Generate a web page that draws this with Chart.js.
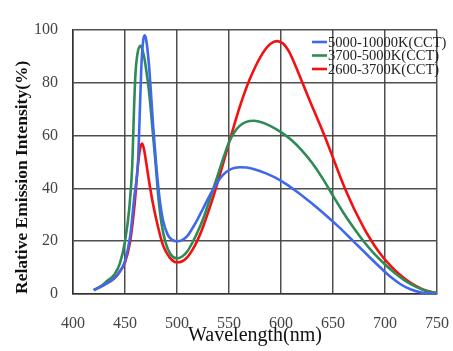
<!DOCTYPE html>
<html>
<head>
<meta charset="utf-8">
<script src="https://cdn.jsdelivr.net/npm/chart.js@4/dist/chart.umd.min.js"></script>
<style>
  html, body { margin: 0; padding: 0; background: #fff; }
  #c { display: block; }
</style>
</head>
<body>
<canvas id="c" width="453" height="351"></canvas>
<script>
// ---- Data ----
const seriesLabels = ["5000-10000K(CCT)", "3700-5000K(CCT)", "2600-3700K(CCT)"];
const seriesColors = ["#3f68ee", "#2e8b57", "#f21010"];

const blueNm  = [420, 430, 440, 445, 450, 455, 459, 462.5, 464, 465.7, 467.5, 469, 470.5, 473, 475, 477, 480, 483, 486.5, 491, 495, 500, 505, 510, 515, 520, 525, 530, 535, 540, 545, 550, 555, 561, 567, 575, 585, 595, 605, 615, 625, 635, 645, 655, 665, 675, 685, 695, 705, 715, 725, 735, 750];
const blueVal = [1.5, 3.5, 6, 8.5, 12.5, 22, 37, 50, 66, 86, 96, 98, 96, 87, 76, 64, 49, 37, 28, 22.5, 20.6, 20, 20.4, 22, 25, 28.5, 32.3, 36.2, 39.8, 43, 45.4, 46.9, 47.7, 48, 47.9, 47.2, 45.8, 44, 41.6, 38.8, 35.8, 32.6, 29.2, 25.6, 21.8, 17.9, 14, 10.2, 6.6, 3.7, 1.7, 0.6, 0];

const greenNm  = [420, 427, 433, 440, 445, 450, 454, 457, 458.5, 460, 462, 465, 468, 470, 473, 475, 477, 479.5, 482, 485, 489, 494, 500, 505, 510, 515, 520, 525, 530, 535, 540, 545, 550, 555, 560, 566, 574, 582, 590, 600, 610, 620, 630, 640, 650, 660, 670, 680, 690, 700, 710, 720, 730, 740, 750];
const greenVal = [1.5, 3, 5, 7.5, 11.5, 20, 32, 49, 68, 83, 91, 94, 90.5, 86, 77, 69, 60, 49, 37, 27, 19.5, 15, 13.5, 14.2, 16.2, 19.6, 23.7, 28.3, 34, 40, 46, 52, 57.5, 61.2, 63.6, 65.1, 65.6, 65, 63.6, 61.3, 58.3, 54.4, 49.6, 43.8, 37.2, 30.8, 25, 19.7, 15.1, 11.2, 7.8, 4.9, 2.7, 1.1, 0.3];

const redNm  = [420, 430, 440, 445, 450, 455, 459, 462.5, 464.5, 466.3, 468, 470.5, 473, 477, 481.7, 486.5, 493, 500, 505, 510, 515, 520, 525, 530, 535, 540, 545, 550, 555, 560, 565, 570, 575, 580, 585, 590, 596, 602, 608, 614, 620, 626, 632, 638, 644, 650, 655, 660, 665, 670, 675, 680, 685, 690, 695, 700, 710, 720, 730, 740, 750];
const redVal = [1.5, 3.5, 6, 8.5, 12, 20, 33, 49, 55, 57, 55.3, 49.5, 43, 34, 25.5, 18.5, 13.8, 12, 12.4, 14, 16.8, 20.6, 25.4, 31, 37, 43.5, 50.3, 57.3, 64, 70.5, 76.3, 81.4, 85.8, 89.6, 92.7, 94.8, 95.8, 94.9, 91.6, 86.4, 80.6, 74.8, 69.2, 63.6, 57.8, 51.6, 46.4, 41.4, 36.8, 32.5, 28.6, 24.8, 21.4, 18.3, 15.5, 13, 8.8, 5.5, 3, 1.2, 0.3];

const xTicks = [400, 450, 500, 550, 600, 650, 700, 750];
const yTicks = [0, 20, 40, 60, 80, 100];
const xTitle = "Wavelength(nm)";
const yTitle = "Relative Emission Intensity(%)";

// ---- Build chart ----
function toPoints(xs, ys) { return xs.map((x, i) => ({ x: x, y: ys[i] })); }

const allNm = [blueNm, greenNm, redNm];
const allVal = [blueVal, greenVal, redVal];

const datasets = seriesLabels.map((lab, i) => ({
  label: lab,
  data: toPoints(allNm[i], allVal[i]),
  borderColor: seriesColors[i],
  backgroundColor: seriesColors[i],
  borderWidth: 2.6,
  pointRadius: 0,
  fill: false,
  cubicInterpolationMode: 'monotone'
}));

const SERIF = "'Liberation Serif', 'Times New Roman', serif";
const GRID = "rgba(70,70,70,0.95)";

const insideLegend = {
  id: 'insideLegend',
  afterDatasetsDraw(chart) {
    const ctx = chart.ctx;
    const area = chart.chartArea;
    ctx.save();
    ctx.font = "14.5px " + SERIF;
    ctx.textBaseline = 'middle';
    ctx.textAlign = 'left';
    const x0 = area.right - 125;
    const y0 = area.top + 12;
    const step = 13.5;
    chart.data.datasets.forEach((ds, i) => {
      const y = y0 + i * step;
      ctx.strokeStyle = ds.borderColor;
      ctx.lineWidth = 2.6;
      ctx.beginPath();
      ctx.moveTo(x0, y);
      ctx.lineTo(x0 + 15, y);
      ctx.stroke();
      ctx.fillStyle = '#222';
      ctx.fillText(ds.label, x0 + 16, y + 1);
    });
    ctx.restore();
  }
};

new Chart(document.getElementById('c'), {
  type: 'line',
  data: { datasets: datasets },
  plugins: [insideLegend],
  options: {
    responsive: false,
    animation: false,
    layout: { padding: { left: 0, top: 30, right: 16, bottom: 0 } },
    plugins: {
      legend: { display: false },
      tooltip: { enabled: false }
    },
    scales: {
      x: {
        type: 'linear',
        min: 400, max: 750,
        afterFit(scale) { scale.height = 57; scale.paddingLeft = 0; scale.paddingRight = 0; },
        afterBuildTicks(scale) { scale.ticks = xTicks.map(v => ({ value: v })); },
        grid: { color: GRID, lineWidth: 1.5, drawTicks: false },
        border: { display: true, color: '#333', width: 1.5 },
        ticks: { padding: 20, color: '#444', font: { family: SERIF, size: 16 } },
        title: { display: true, text: xTitle, color: '#111', padding: { top: 0, bottom: 3 }, font: { family: SERIF, size: 20 } }
      },
      y: {
        min: 0, max: 100,
        afterFit(scale) { scale.width = 73; scale.paddingTop = 0; scale.paddingBottom = 0; },
        afterBuildTicks(scale) { scale.ticks = yTicks.map(v => ({ value: v })); },
        grid: { color: GRID, lineWidth: 1.5, drawTicks: false },
        border: { display: true, color: '#333', width: 1.5 },
        ticks: { padding: 15, color: '#444', font: { family: SERIF, size: 16 } },
        title: { display: true, text: yTitle, align: 'start', color: '#111', padding: { top: 12, bottom: 0 }, font: { family: SERIF, size: 17.5, weight: 'bold' } }
      }
    }
  }
});
</script>
</body>
</html>
